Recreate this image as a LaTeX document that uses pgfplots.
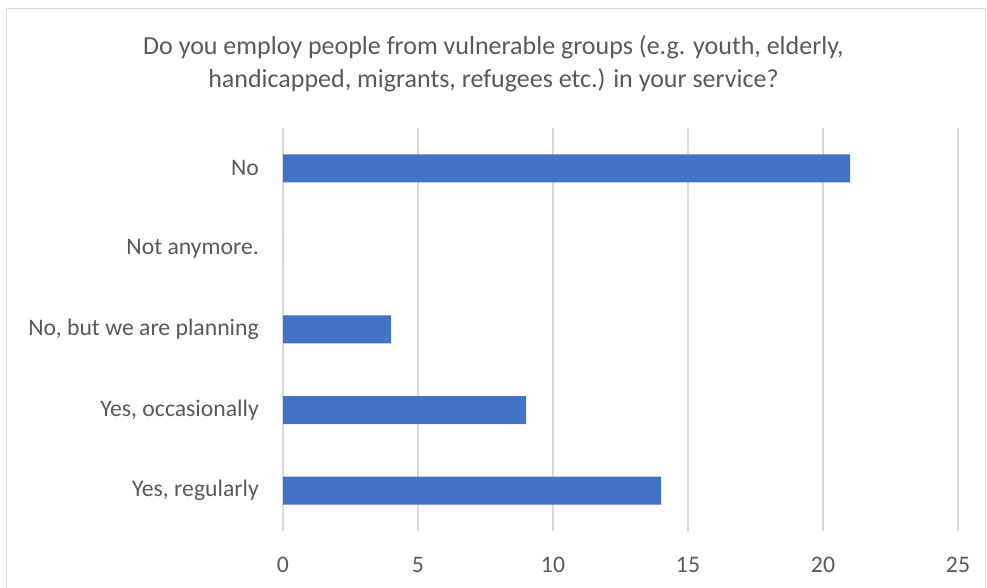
\documentclass[border=0pt]{standalone}
\usepackage{pgfplots}
\pgfplotsset{compat=1.18}
\usepackage{fontspec}
\setmainfont{Carlito}
\definecolor{barblue}{HTML}{4472C4}
\definecolor{gridgray}{HTML}{D9D9D9}
\definecolor{txtgray}{HTML}{595959}
\definecolor{bordergray}{HTML}{D9D9D9}
\begin{document}
\begin{tikzpicture}
\useasboundingbox (0pt,0pt) rectangle (987pt,588pt);
\draw[bordergray, line width=1pt] (6pt,-5pt) -- (6pt,579pt) -- (985pt,579pt) -- (985pt,-5pt);
\node[txtgray, align=center, font=\fontsize{26}{33}\selectfont] at (493.5pt,524.5pt)
  {Do you employ people from vulnerable groups (e.g. youth, elderly,\\handicapped, migrants, refugees etc.) in your service?};
\begin{axis}[
  at={(283pt,57pt)}, anchor=south west,
  scale only axis, width=675pt, height=403pt,
  xbar, bar width=28pt,
  xmin=0, xmax=25, ymin=-0.5, ymax=4.5,
  xtick={0,5,...,25},
  ytick={0,1,2,3,4},
  yticklabels={{Yes, regularly},{Yes, occasionally},{No, but we are planning},{Not anymore.},{No}},
  xmajorgrids, grid style={gridgray, line width=1.2pt},
  axis line style={draw=none},
  major tick length=0pt,
  tick label style={txtgray, font=\fontsize{23.7}{28}\selectfont},
  /pgf/number format/assume math mode=true,
  xticklabel style={anchor=north, inner sep=0pt, yshift=-26pt},
  yticklabel style={anchor=east, inner sep=0pt, xshift=-24pt},
  clip=false,
]
\addplot[fill=barblue, draw=none] coordinates {(14,0) (9,1) (4,2) (0,3) (21,4)};
\end{axis}
\end{tikzpicture}
\end{document}
